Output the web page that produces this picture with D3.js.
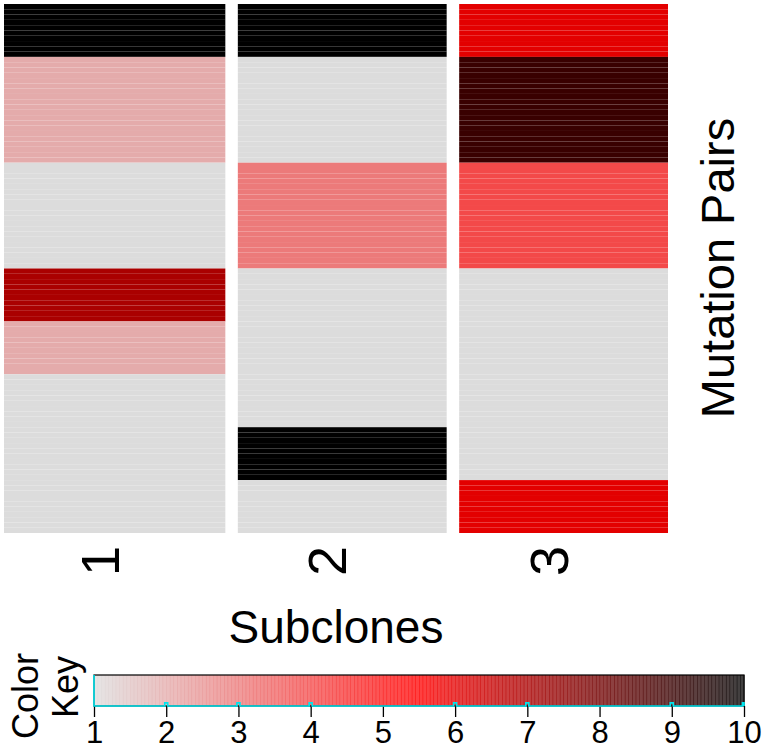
<!DOCTYPE html>
<html><head><meta charset="utf-8">
<script src="https://cdn.jsdelivr.net/npm/d3@7"></script>
<style>body{margin:0;background:#fff}svg{display:block}text{font-family:"Liberation Sans",Arial,sans-serif;fill:#000}</style>
</head><body><div id="chart"></div>
<script>
// Subclones (columns)
const subclones = ["1","2","3"];
// Values per block of 10 mutation pairs (10 blocks => 100 rows), one array per subclone
const blocksPerSubclone = 10;
const rowsPerBlock = 10;
const subclone1 = [10,2,2,1,1,7,2,1,1,1];
const subclone2 = [10,1,1,3,3,1,1,1,10,1];
const subclone3 = [6,9,9,4,4,1,1,1,1,6];
const keyTicks = [1,2,3,4,5,6,7,8,9,10];
// histogram trace on the colour key (relative height)
const histValues = [1,2,3,4,6,7,9,10];
const histHeights = [1.0,0.1,0.1,0.1,0.1,0.1,0.1,0.1];

const W=768,H=749;
const svg=d3.select("#chart").append("svg").attr("width",W).attr("height",H);

const color=d3.scaleLinear().domain([1,5.5,10]).range(["#DCDCDC","#FF0000","#000000"]).interpolate(d3.interpolateRgb);

const nRows=blocksPerSubclone*rowsPerBlock;
const x=d3.scaleBand().domain(subclones).range([4,668]).padding(0);
const y=d3.scaleBand().domain(d3.range(nRows)).range([4,533]).padding(0);
const sepW=12.5;

const cols=[subclone1,subclone2,subclone3];
const cells=[];
cols.forEach((arr,ci)=>{
  for(let r=0;r<nRows;r++){
    cells.push({ci,col:subclones[ci],row:r,v:arr[Math.floor(r/rowsPerBlock)]});
  }
});
svg.append("g").selectAll("rect").data(cells).join("rect")
  .attr("x",d=>x(d.col)+(d.ci>0?sepW:0)).attr("y",d=>y(d.row))
  .attr("width",d=>x.bandwidth()-(d.ci>0?sepW:0)).attr("height",y.bandwidth())
  .attr("fill",d=>color(d.v));

// column labels
svg.append("g").selectAll("text").data(subclones).join("text")
  .attr("transform",(d,i)=>{
    const cx=x(d)+x.bandwidth()/2 + (i===0?0:sepW/2) - 15;
    return `translate(${cx},546) rotate(-90)`;})
  .attr("text-anchor","end").attr("dominant-baseline","central")
  .attr("font-size",54).text(d=>d);

svg.append("text").attr("x",336).attr("y",643).attr("text-anchor","middle").attr("font-size",46).text("Subclones");
svg.append("text").attr("transform","translate(734,268) rotate(-90)").attr("text-anchor","middle").attr("font-size",47).text("Mutation Pairs");

// colour key
const kx=d3.scaleLinear().domain([1,10]).range([94,744]);
const kTop=675,kBot=706;
const kSteps=d3.range(1,10,0.05);
svg.append("g").selectAll("rect").data(kSteps).join("rect")
  .attr("x",d=>kx(d)).attr("y",kTop).attr("width",kx(1.05)-kx(1)+0.6).attr("height",kBot-kTop)
  .attr("fill",d=>color(d+0.025)).attr("fill-opacity",0.75);
svg.append("rect").attr("x",kx(1)).attr("y",kTop).attr("width",kx(10)-kx(1)).attr("height",kBot-kTop)
  .attr("fill","none").attr("stroke","#000").attr("stroke-width",1.2);

const kAxis=d3.axisBottom(kx).tickValues(keyTicks).tickSize(11).tickSizeOuter(0).tickPadding(4).tickFormat(d3.format("d"));
const ag=svg.append("g").attr("transform",`translate(0,${kBot})`).call(kAxis);
ag.select(".domain").remove();
ag.selectAll("line").attr("stroke","#000").attr("stroke-width",1.3);
ag.selectAll("text").attr("font-size",31).attr("font-family","'Liberation Sans',Arial,sans-serif").attr("dy","0.72em");

// histogram trace
const hy=d3.scaleLinear().domain([0,1]).range([kBot,kTop]);
const bw=1.5;
let p=d3.path();
p.moveTo(kx(1),hy(histHeights[0]));
p.lineTo(kx(1),kBot);
histValues.forEach((v,i)=>{
  if(i===0) return;
  const cx=kx(v);
  if(v===10){p.lineTo(cx-bw,kBot);p.lineTo(cx-bw,hy(histHeights[i]));p.lineTo(cx,hy(histHeights[i]));return;}
  p.lineTo(cx-bw,kBot);p.lineTo(cx-bw,hy(histHeights[i]));p.lineTo(cx+bw,hy(histHeights[i]));p.lineTo(cx+bw,kBot);
});
p.lineTo(kx(10),kBot);
svg.append("path").attr("d",p.toString()).attr("fill","none").attr("stroke","#00E5EE").attr("stroke-width",1.6);

svg.append("text").attr("transform","translate(38,696) rotate(-90)").attr("text-anchor","middle").attr("font-size",36).text("Color");
svg.append("text").attr("transform","translate(78,687) rotate(-90)").attr("text-anchor","middle").attr("font-size",36).text("Key");
</script></body></html>
